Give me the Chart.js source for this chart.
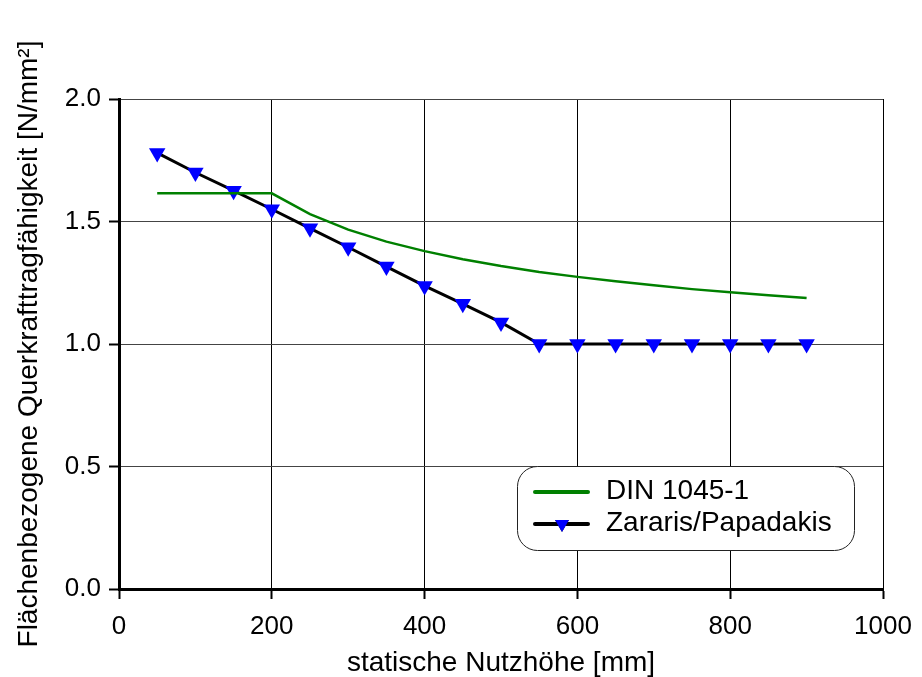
<!DOCTYPE html>
<html>
<head>
<meta charset="utf-8">
<script src="https://cdn.jsdelivr.net/npm/chart.js@4"></script>
<style>
  html, body { margin: 0; padding: 0; background: #fff; }
  #wrap { width: 922px; height: 677px; position: relative; }
</style>
</head>
<body>
<div id="wrap"><canvas id="chart"></canvas></div>
<script>
// statische Nutzhöhe d [mm]
const nutzhoehe = [50, 100, 150, 200, 250, 300, 350, 400, 450, 500, 550, 600, 650, 700, 750, 800, 850, 900];
// Querkrafttragfähigkeit [N/mm²]
const dinValues = [1.615, 1.615, 1.615, 1.615, 1.53, 1.467, 1.418, 1.379, 1.346, 1.318, 1.294, 1.274, 1.256, 1.24, 1.224, 1.211, 1.199, 1.188];
const zararisValues = [1.78, 1.70, 1.626, 1.55, 1.472, 1.395, 1.316, 1.237, 1.164, 1.088, 1.0, 1.0, 1.0, 1.0, 1.0, 1.0, 1.0, 1.0];
const seriesLabels = ['DIN 1045-1', 'Zararis/Papadakis'];

const FONT = 'Arial, "Liberation Sans", sans-serif';

const toPoints = (xs, ys) => xs.map((x, i) => ({ x: x, y: ys[i] }));

// Legende mit abgerundetem Rahmen (wie im Original)
const boxLegend = {
  id: 'boxLegend',
  afterDraw(chart) {
    const ctx = chart.ctx;
    const x = 517, y = 466, w = 337, h = 84, r = 20;
    ctx.save();
    ctx.fillStyle = '#fff';
    ctx.strokeStyle = '#222';
    ctx.lineWidth = 1;
    ctx.beginPath();
    ctx.roundRect(x + 0.5, y + 0.5, w, h, r);
    ctx.fill();
    ctx.stroke();

    chart.data.datasets.forEach((ds, i) => {
      const ly = 492 + i * 32;
      ctx.strokeStyle = ds.borderColor;
      ctx.lineWidth = 4;
      ctx.lineCap = 'round';
      ctx.beginPath();
      ctx.moveTo(535, ly);
      ctx.lineTo(588, ly);
      ctx.stroke();
      if (ds.pointRadius > 0) {
        Chart.helpers.drawPoint(ctx, {
          pointStyle: 'triangle',
          rotation: 180,
          radius: 8,
          borderWidth: 0
        }, 562, ly);
        ctx.fillStyle = ds.pointBackgroundColor;
        ctx.fill();
      }
      ctx.fillStyle = '#000';
      ctx.font = '28px ' + FONT;
      ctx.textBaseline = 'middle';
      ctx.textAlign = 'left';
      ctx.fillText(ds.label, 606, ly - 1);
    });
    ctx.restore();
  }
};

new Chart(document.getElementById('chart'), {
  type: 'line',
  data: {
    datasets: [
      {
        label: seriesLabels[0],
        data: toPoints(nutzhoehe, dinValues),
        borderColor: '#008000',
        borderWidth: 2.5,
        pointRadius: 0,
        tension: 0
      },
      {
        label: seriesLabels[1],
        data: toPoints(nutzhoehe, zararisValues),
        borderColor: '#000000',
        borderWidth: 3,
        pointStyle: 'triangle',
        rotation: 180,
        pointRadius: 9.5,
        pointBorderWidth: 0,
        pointBackgroundColor: '#0000ff',
        pointBorderColor: '#0000ff',
        tension: 0
      }
    ]
  },
  options: {
    responsive: true,
    maintainAspectRatio: false,
    animation: false,
    clip: false,
    layout: { padding: { left: 0, top: 99, right: 39, bottom: 0 } },
    plugins: {
      legend: { display: false },
      tooltip: { enabled: false }
    },
    scales: {
      x: {
        type: 'linear',
        min: 0,
        max: 1000,
        afterFit(scale) {
          scale.height = 88;
          scale.paddingLeft = 0;
          scale.paddingRight = 0;
        },
        ticks: {
          stepSize: 200,
          color: '#000',
          padding: 12,
          font: { family: FONT, size: 26 },
          callback: v => String(v)
        },
        grid: { color: '#000', lineWidth: 1, tickLength: 10, tickColor: '#000', tickWidth: 2 },
        border: { color: '#000', width: 3 },
        title: {
          display: true,
          text: 'statische Nutzhöhe [mm]',
          color: '#000',
          font: { family: FONT, size: 28 },
          padding: { top: 0, bottom: -3 }
        }
      },
      y: {
        min: 0,
        max: 2,
        afterFit(scale) { scale.width = 119; },
        ticks: {
          stepSize: 0.5,
          color: '#000',
          padding: 8,
          font: { family: FONT, size: 26 },
          callback: v => v.toFixed(1)
        },
        grid: { color: '#444', lineWidth: 1, tickLength: 10, tickColor: '#000', tickWidth: 2 },
        border: { color: '#000', width: 3 },
        title: {
          display: true,
          text: 'Flächenbezogene Querkrafttragfähigkeit [N/mm²]',
          color: '#000',
          font: { family: FONT, size: 28 },
          padding: { top: 12, bottom: 0 }
        }
      }
    }
  },
  plugins: [boxLegend]
});
</script>
</body>
</html>
